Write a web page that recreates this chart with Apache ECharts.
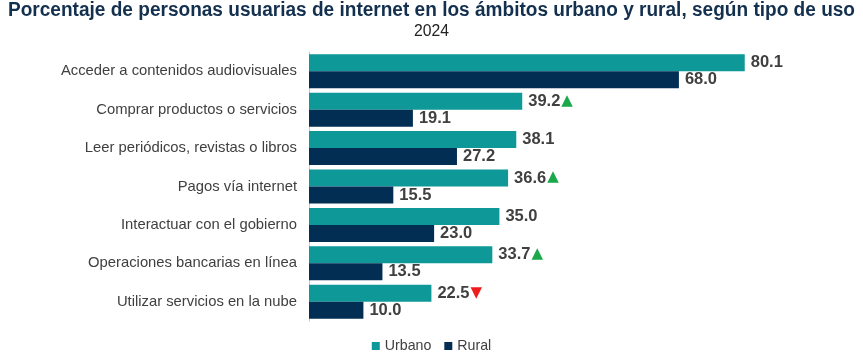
<!DOCTYPE html>
<html><head><meta charset="utf-8">
<script src="https://cdn.jsdelivr.net/npm/echarts@6/dist/echarts.min.js"></script>
<style>html,body{margin:0;padding:0;background:#fff}#c{width:863px;height:359px}</style>
</head><body><div id="c"></div>
<script>
const categories = ['Acceder a contenidos audiovisuales','Comprar productos o servicios','Leer periódicos, revistas o libros','Pagos vía internet','Interactuar con el gobierno','Operaciones bancarias en línea','Utilizar servicios en la nube'];
const urbano = [80.1, 39.2, 38.1, 36.6, 35.0, 33.7, 22.5];
const rural = [68.0, 19.1, 27.2, 15.5, 23.0, 13.5, 10.0];
const trend = ['', 'up', '', 'up', '', 'up', 'down'];
const titleText = 'Porcentaje de personas usuarias de internet en los ámbitos urbano y rural, según tipo de uso';
const subtitleText = '2024';

const titleFont = 'bold 20px "Liberation Sans", Arial, sans-serif';
const subFont = '16.5px "Liberation Sans", Arial, sans-serif';
const cv = document.createElement('canvas').getContext('2d');
cv.font = titleFont;
const titleScale = 847 / cv.measureText(titleText).width;

const chart = echarts.init(document.getElementById('c'));
const lblRich = {
  v: {fontFamily:'Liberation Sans, Arial, sans-serif', fontWeight:'bold', fontSize:16.5, color:'#404040'},
  up: {fontFamily:'DejaVu Sans', fontSize:15, color:'#1aa84a', padding:[0,0,1,1]},
  down: {fontFamily:'DejaVu Sans', fontSize:15, color:'#ee1c1c', padding:[0,0,1,1]}
};
chart.setOption({
  animation:false,
  graphic:[{
    type:'text', x:431.5, y:0, scaleX:titleScale, originX:0, originY:0,
    style:{text:titleText, font:titleFont, fill:'#14304f', align:'center', verticalAlign:'top'}
  },{
    type:'text', x:431.5, y:23, scaleX:titleScale, originX:0, originY:0,
    style:{text:subtitleText, font:subFont, fill:'#222', align:'center', verticalAlign:'top'}
  }],
  legend:{
    bottom:1, left:'center', itemWidth:8, itemHeight:8, itemGap:13, icon:'rect',
    textStyle:{fontFamily:'Liberation Sans, Arial, sans-serif', fontSize:14.2, color:'#404040'},
    data:['Urbano','Rural']
  },
  grid:{left:309, right:10, top:52, bottom:38, containLabel:false},
  xAxis:{type:'value', min:0, max:100, show:false},
  yAxis:{type:'category', data:categories, inverse:true,
    axisLine:{show:true, lineStyle:{color:'#c8c8c8', width:1}},
    axisTick:{show:false},
    axisLabel:{fontFamily:'Liberation Sans, Arial, sans-serif', fontSize:14.8, color:'#404040', margin:12}
  },
  series:[{
    name:'Urbano', type:'bar', data:urbano, barWidth:17, barGap:'0%',
    itemStyle:{color:'#0e9898'},
    label:{show:true, position:'right', distance:6, rich:lblRich,
      formatter:p=>{const t=trend[p.dataIndex]; return '{v|'+p.value.toFixed(1)+'}'+(t==='up'?'{up|▲}':t==='down'?'{down|▼}':'');}}
  },{
    name:'Rural', type:'bar', data:rural, barWidth:17,
    itemStyle:{color:'#022e53'},
    label:{show:true, position:'right', distance:6, rich:lblRich,
      formatter:p=>'{v|'+p.value.toFixed(1)+'}'}
  }]
});
</script></body></html>
